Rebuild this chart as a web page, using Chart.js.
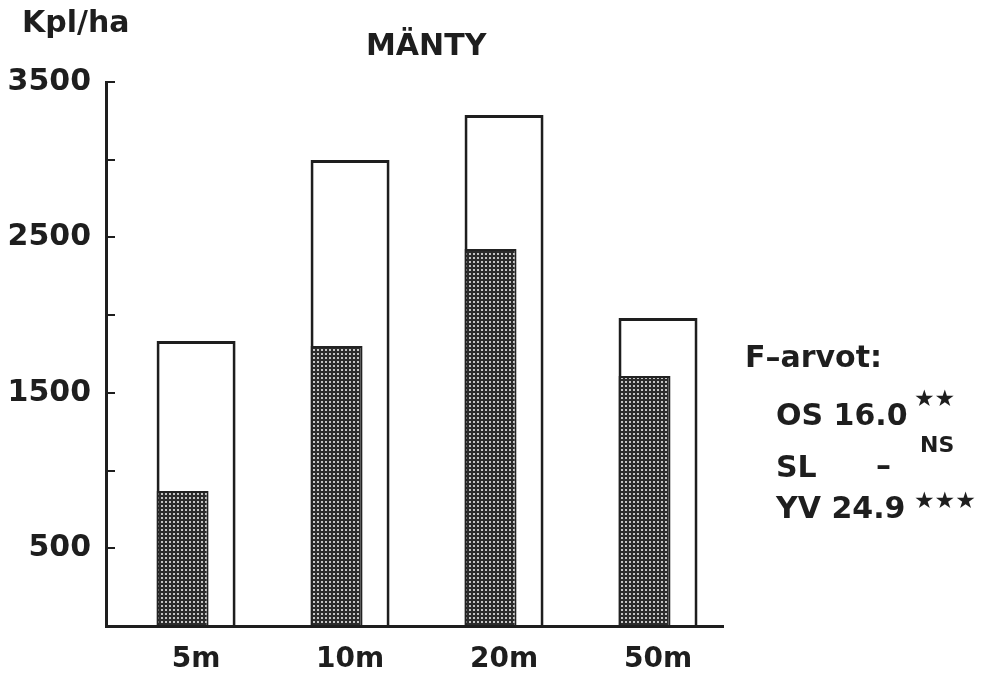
<!DOCTYPE html>
<html>
<head>
<meta charset="utf-8">
<script src="https://cdn.jsdelivr.net/npm/chart.js@4.4.1/dist/chart.umd.min.js"></script>
<style>
  html, body { margin: 0; padding: 0; background: #ffffff; }
  #wrap { position: relative; width: 984px; height: 673px; overflow: hidden; }
  canvas { position: absolute; left: 0; top: 0; }
  .t { position: absolute; font-family: "DejaVu Sans", sans-serif; font-weight: bold; color: #1e1e1e; line-height: 1; white-space: pre; }
  .big { font-size: 30px; }
  .sup { font-size: 22px; }
  .star { font-size: 23px; letter-spacing: 0px; }
</style>
</head>
<body>
<div id="wrap">
  <canvas id="c" width="984" height="673"></canvas>
  <div class="t big" style="left:22px; top:7px;">Kpl/ha</div>
  <div class="t big" style="left:366px; top:30px;">MÄNTY</div>
  <div class="t big" style="left:745px; top:342px;">F–arvot:</div>
  <div class="t big" style="left:776px; top:400px;">OS 16.0</div>
  <div class="t star" style="left:914px; top:387px;">★★</div>
  <div class="t big" style="left:776px; top:452px;">SL</div>
  <div class="t big" style="left:876px; top:450px;">–</div>
  <div class="t sup" style="left:920px; top:434px;">NS</div>
  <div class="t big" style="left:776px; top:493px;">YV 24.9</div>
  <div class="t star" style="left:914px; top:489px;">★★★</div>
</div>
<script>
// ---- data ----
const categories = ['5m', '10m', '20m', '50m'];
const totalValues = [1834, 2998, 3288, 1982];     // open (outlined) bars
const hatchedValues = [869, 1801, 2426, 1608];    // hatched bars
const yTickLabels = [500, 1500, 2500, 3500];      // labelled y ticks
const yMax = 3500;
const yStep = 500;

// ---- hatch pattern ----
function makePattern() {
  const p = document.createElement('canvas');
  p.width = 4; p.height = 4;
  const g = p.getContext('2d');
  g.fillStyle = '#2c2c2c';
  g.fillRect(0, 0, 4, 4);
  g.fillStyle = '#c4c4c4';
  g.fillRect(1, 1, 2, 2);
  return document.getElementById('c').getContext('2d').createPattern(p, 'repeat');
}
const hatch = makePattern();

const ink = '#1e1e1e';
const tickFont = { family: 'DejaVu Sans', weight: 'bold', size: 30, lineHeight: 1 };

new Chart(document.getElementById('c'), {
  type: 'bar',
  data: {
    datasets: [
      {
        label: 'total',
        data: categories.map((c, i) => ({ x: i, y: totalValues[i] })),
        grouped: false,
        order: 2,
        backgroundColor: '#ffffff',
        borderColor: ink,
        borderWidth: 3,
        categoryPercentage: 1,
        barPercentage: 0.513
      },
      {
        label: 'hatched',
        data: categories.map((c, i) => ({ x: i, y: hatchedValues[i] })),
        order: 0,
        backgroundColor: hatch,
        borderColor: '#222222',
        borderWidth: 2,
        categoryPercentage: 0.3506,
        barPercentage: 1.926
      },
      {
        label: 'spacer',
        data: categories.map((c, i) => ({ x: i, y: null })),
        order: 1,
        backgroundColor: 'rgba(0,0,0,0)',
        borderWidth: 0,
        categoryPercentage: 0.3506,
        barPercentage: 1.926
      }
    ]
  },
  options: {
    responsive: false,
    maintainAspectRatio: false,
    animation: false,
    events: [],
    layout: { padding: { top: 82, right: 261, bottom: 0, left: 0 } },
    plugins: { legend: { display: false }, tooltip: { enabled: false }, title: { display: false } },
    scales: {
      x: {
        type: 'linear',
        min: -0.585,
        max: 3.422,
        offset: false,
        afterBuildTicks: (s) => { s.ticks = categories.map((c, i) => ({ value: i })); },
        afterFit: (s) => { s.height = 47; },
        ticks: {
          callback: (v) => categories[v] ?? '',
          color: ink,
          font: { family: 'DejaVu Sans', weight: 'bold', size: 28, lineHeight: 1 },
          padding: 20,
          maxRotation: 0,
          autoSkip: false
        },
        grid: { display: true, drawOnChartArea: false, drawTicks: false, offset: false },
        border: { display: true, color: ink, width: 3 }
      },
      y: {
        type: 'linear',
        min: 0,
        max: yMax,
        afterFit: (s) => { s.width = 106; },
        ticks: {
          stepSize: yStep,
          callback: (v) => yTickLabels.includes(v) ? String(v) : '',
          color: ink,
          font: tickFont,
          padding: 24,
          autoSkip: false
        },
        grid: { drawOnChartArea: false, drawTicks: true, tickLength: -9, color: ink, lineWidth: 2 },
        border: { display: true, color: ink, width: 3 }
      }
    }
  }
});
</script>
</body>
</html>
